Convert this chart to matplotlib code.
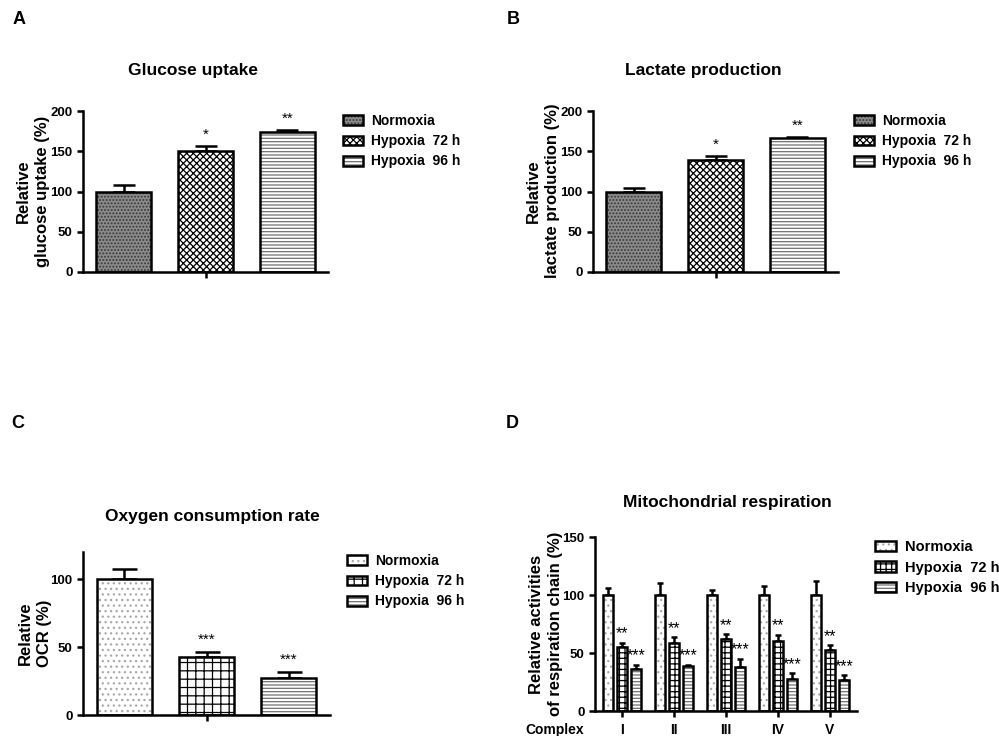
import numpy as np
import matplotlib.pyplot as plt
from matplotlib.colors import to_rgba

plt.rcParams['font.family'] = ['Liberation Sans', 'DejaVu Sans']
plt.rcParams['font.weight'] = 'bold'
plt.rcParams['hatch.linewidth'] = 0.9

groups = ['Normoxia', 'Hypoxia  72 h', 'Hypoxia  96 h']

glucose_mean = [100, 150, 174]
glucose_err = [8, 6, 2]
glucose_stars = ['', '*', '**']

lactate_mean = [100, 139, 166]
lactate_err = [4, 5, 2]
lactate_stars = ['', '*', '**']

ocr_mean = [100, 42.5, 27]
ocr_err = [7.5, 4, 4.5]
ocr_stars = ['', '***', '***']

complexes = ['I', 'II', 'III', 'IV', 'V']
resp_normoxia = [100, 100, 100, 100, 100]
resp_normoxia_err = [6, 10, 4, 8, 12]
resp_h72 = [55.5, 58.5, 62.5, 60, 52.5]
resp_h72_err = [3.5, 5, 3.5, 5.5, 4]
resp_h96 = [36.5, 39, 38, 27.5, 26.5]
resp_h96_err = [3.5, 1, 7, 5, 4.5]
resp_h72_stars = ['**', '**', '**', '**', '**']
resp_h96_stars = ['***', '***', '***', '***', '***']

W, H = 999, 736
LW = 1.8

# fill patterns (face, hatch, hatch colour)
styles_ab = [('#8a8a8a', '.....', '#383838'),
             ('white', 'xxxxx', 'black'),
             ('white', '-----', '#707070')]
styles_c = [('white', '...', '#a8a8a8'),
            ('white', '++', 'black'),
            ('white', '-----', '#707070')]
styles_d = [('white', '...', '#a8a8a8'),
            ('white', '+++', 'black'),
            ('white', '-----', '#707070')]

fig = plt.figure(figsize=(W / 100, H / 100), dpi=100)


def px_axes(left, top, right, bottom):
    return fig.add_axes([left / W, 1 - bottom / H, (right - left) / W, (bottom - top) / H])


def style_axes(ax):
    for s in ['top', 'right']:
        ax.spines[s].set_visible(False)
    for s in ['left', 'bottom']:
        ax.spines[s].set_linewidth(LW)
    ax.tick_params(direction='out', length=4, width=LW, labelsize=9.5)


def draw_bars(ax, x, means, errs, width, style, capsize, stars=None, star_fs=11, star_off=3):
    face, hatch, hc = style
    bars = ax.bar(x, means, width, color=face, edgecolor='black', linewidth=LW,
                  hatch=hatch, zorder=2)
    for b in bars:
        b._hatch_color = to_rgba(hc)
    ax.errorbar(x, means, yerr=[np.zeros(len(means)), errs], fmt='none', ecolor='black',
                elinewidth=LW, capsize=capsize, capthick=LW, zorder=1)
    if stars is not None:
        for xi, m, e, s in zip(np.atleast_1d(x), means, errs, stars):
            if s:
                ax.annotate(s, (xi, m + e), xytext=(0, star_off), textcoords='offset points',
                            ha='center', va='bottom', fontsize=star_fs, fontweight='normal')
    return bars


def add_legend(ax, handles, x, y, fs=10):
    ax.legend(handles, groups, loc='upper left', bbox_to_anchor=(x / W, 1 - y / H),
              bbox_transform=fig.transFigure, frameon=False, fontsize=fs,
              handlelength=1.45, handleheight=0.7, handletextpad=0.6,
              labelspacing=0.45, borderpad=0, borderaxespad=0)


def simple_panel(box, means, errs, stars, styles, ymax, yticks, capsize, star_off):
    ax = px_axes(*box)
    handles = []
    for i in range(3):
        b = draw_bars(ax, [i], [means[i]], [errs[i]], 0.67, styles[i], capsize,
                      [stars[i]], star_off=star_off)
        handles.append(b[0])
    ax.set_xlim(-0.5, 2.5)
    ax.set_ylim(0, ymax)
    ax.set_yticks(yticks)
    ax.set_xticks([1])
    ax.set_xticklabels([])
    style_axes(ax)
    return ax, handles


# A: glucose uptake
axA, hA = simple_panel((83, 111, 328, 272), glucose_mean, glucose_err, glucose_stars,
                       styles_ab, 200, [0, 50, 100, 150, 200], 8, 3)
add_legend(axA, hA, 343, 114)
fig.text(19 / W, 1 - 19 / H, 'A', fontsize=13, ha='center', va='center')
fig.text(193 / W, 1 - 71 / H, 'Glucose uptake', fontsize=12.5, ha='center', va='center')
fig.text(33 / W, 1 - 191 / H, 'Relative\nglucose uptake (%)', rotation=90, fontsize=12,
         ha='center', va='center', multialignment='center', linespacing=1.3)

# B: lactate production
axB, hB = simple_panel((593, 111, 838, 272), lactate_mean, lactate_err, lactate_stars,
                       styles_ab, 200, [0, 50, 100, 150, 200], 8, 3)
add_legend(axB, hB, 854, 114)
fig.text(513 / W, 1 - 19 / H, 'B', fontsize=13, ha='center', va='center')
fig.text(703 / W, 1 - 71 / H, 'Lactate production', fontsize=12.5, ha='center', va='center')
fig.text(543 / W, 1 - 191 / H, 'Relative\nlactate production (%)', rotation=90, fontsize=12,
         ha='center', va='center', multialignment='center', linespacing=1.3)

# C: oxygen consumption rate
axC, hC = simple_panel((83, 552, 330, 715), ocr_mean, ocr_err, ocr_stars,
                       styles_c, 120, [0, 50, 100], 9, 4)
add_legend(axC, hC, 347, 554)
fig.text(18 / W, 1 - 424 / H, 'C', fontsize=13, ha='center', va='center')
fig.text(212 / W, 1 - 517 / H, 'Oxygen consumption rate', fontsize=12.5, ha='center', va='center')
fig.text(35 / W, 1 - 633 / H, 'Relative\nOCR (%)', rotation=90, fontsize=12,
         ha='center', va='center', multialignment='center', linespacing=1.3)

# D: mitochondrial respiration
axD = px_axes(595, 537, 857, 711)
xd = np.arange(len(complexes))
hD = []
hD.append(draw_bars(axD, xd - 0.27, resp_normoxia, resp_normoxia_err, 0.2, styles_d[0], 2.5)[0])
hD.append(draw_bars(axD, xd, resp_h72, resp_h72_err, 0.2, styles_d[1], 2.5,
                    resp_h72_stars, star_fs=11.5, star_off=1)[0])
hD.append(draw_bars(axD, xd + 0.27, resp_h96, resp_h96_err, 0.2, styles_d[2], 2.5,
                    resp_h96_stars, star_fs=11.5, star_off=1)[0])
axD.set_xlim(-0.52, len(complexes) - 0.48)
axD.set_ylim(0, 150)
axD.set_yticks([0, 50, 100, 150])
axD.set_xticks(xd)
axD.set_xticklabels(complexes)
style_axes(axD)
axD.tick_params(axis='x', labelsize=10, pad=4.5)
add_legend(axD, hD, 875, 540, fs=10.5)
fig.text(555 / W, 1 - 730 / H, 'Complex', fontsize=10, ha='center', va='center')
fig.text(512 / W, 1 - 424 / H, 'D', fontsize=13, ha='center', va='center')
fig.text(727 / W, 1 - 502 / H, 'Mitochondrial respiration', fontsize=12.5, ha='center', va='center')
fig.text(546 / W, 1 - 624 / H, 'Relative activities\nof respiration chain (%)', rotation=90,
         fontsize=12, ha='center', va='center', multialignment='center', linespacing=1.3)

fig.savefig('out.png', dpi=100)
